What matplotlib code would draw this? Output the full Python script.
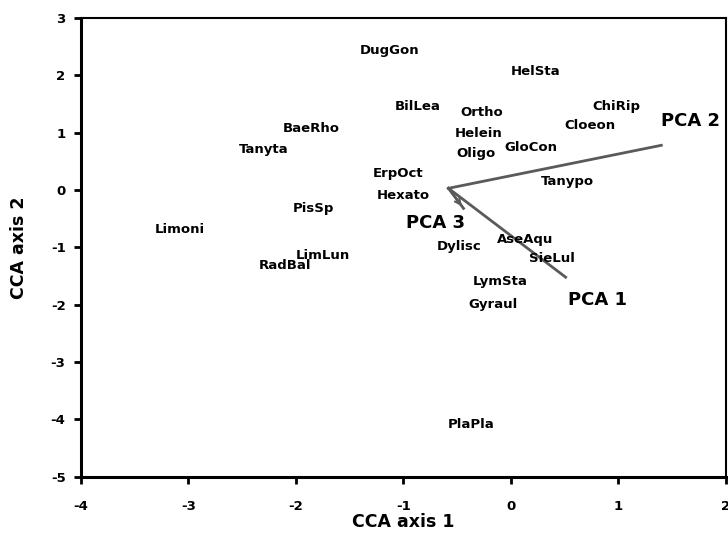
import matplotlib
matplotlib.use('Agg')
import matplotlib.pyplot as plt

plt.rcParams['font.family'] = ['DejaVu Sans']
plt.rcParams['font.weight'] = 'bold'
plt.rcParams['axes.unicode_minus'] = False

# taxa scores (CCA axis 1, CCA axis 2)
taxa = ['DugGon', 'HelSta', 'BilLea', 'Ortho', 'Helein', 'Oligo', 'GloCon',
        'ChiRip', 'Cloeon', 'ErpOct', 'Hexato', 'Tanypo', 'Dylisc', 'AseAqu',
        'SieLul', 'LymSta', 'Gyraul', 'PlaPla', 'BaeRho', 'Tanyta', 'PisSp',
        'Limoni', 'LimLun', 'RadBal']
ax1 = [-1.13, 0.23, -0.87, -0.27, -0.30, -0.32, 0.19,
       0.98, 0.74, -1.05, -1.00, 0.53, -0.48, 0.13,
       0.38, -0.10, -0.17, -0.37, -1.86, -2.30, -1.84,
       -3.08, -1.75, -2.10]
ax2 = [2.44, 2.06, 1.45, 1.36, 0.99, 0.63, 0.75,
       1.45, 1.12, 0.29, -0.09, 0.14, -0.98, -0.86,
       -1.19, -1.59, -1.99, -4.09, 1.08, 0.70, -0.32,
       -0.68, -1.14, -1.31]

# PCA vectors (origin, tips, label spots)
origin = (-0.58, 0.03)
pca_names = ['PCA 1', 'PCA 2', 'PCA 3']
pca_x = [0.51, 1.40, -0.44]
pca_y = [-1.52, 0.78, -0.32]
pca_lx = [0.81, 1.67, -0.70]
pca_ly = [-1.92, 1.20, -0.58]

fig = plt.figure(figsize=(7.28, 5.56), dpi=100)
ax = fig.add_axes([0.111, 0.1426, 0.886, 0.825])

for name, x, y in zip(taxa, ax1, ax2):
    ax.text(x, y, name, ha='center', va='center', fontsize=9.5, fontweight='bold')

for name, x, y, lx, ly in zip(pca_names, pca_x, pca_y, pca_lx, pca_ly):
    ax.plot([origin[0], x], [origin[1], y], color='#5a5a5a', lw=2)
    ax.text(lx, ly, name, ha='center', va='center', fontsize=13, fontweight='bold')
ax.annotate('', xy=(pca_x[2], pca_y[2]), xytext=origin,
            arrowprops=dict(arrowstyle='->', color='#5a5a5a', lw=1.5))

ax.set_xlim(-4, 2)
ax.set_ylim(-5, 3)
ax.set_xticks(range(-4, 3))
ax.set_yticks(range(-5, 4))
for s in ax.spines.values():
    s.set_linewidth(1.5)
ax.spines['left'].set_linewidth(2.2)
ax.spines['bottom'].set_linewidth(2.2)
ax.tick_params(direction='out', length=5, width=2, labelsize=9.5, pad=12)
ax.tick_params(axis='y', pad=6)
ax.set_xlabel('CCA axis 1', fontsize=12.5, fontweight='bold', labelpad=0)
ax.set_ylabel('CCA axis 2', fontsize=12.5, fontweight='bold', labelpad=16)

fig.savefig('out.png', dpi=100)
